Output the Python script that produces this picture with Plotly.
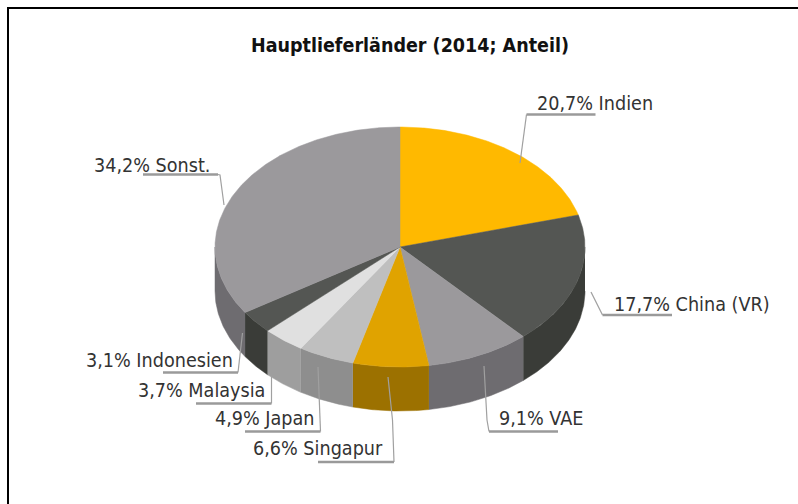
import numpy as np
import plotly.graph_objects as go

# --- data ---
countries = ["Indien", "China (VR)", "VAE", "Singapur", "Japan", "Malaysia", "Indonesien", "Sonst."]
shares = [20.7, 17.7, 9.1, 6.6, 4.9, 3.7, 3.1, 34.2]
title_text = "Hauptlieferländer (2014; Anteil)"

# --- styles ---
top_colors = ["#FFB900", "#545653", "#9B999C", "#E0A300", "#BFBFBF", "#E0E0E0", "#545653", "#9B999C"]
wall_colors = ["#9C7100", "#3A3C38", "#6E6C70", "#9C7100", "#8E8E8E", "#9E9E9E", "#3A3C38", "#6E6C70"]

# --- layout (pixel space of the page) ---
W, H = 798, 504
CX, CY, RX, RY, DEPTH = 400, 247, 185, 120, 44
label_x = [537, 614, 499, 253, 215, 138, 86, 94]
label_y = [103, 304, 418, 448, 418, 390, 360, 165]
leaders = [
    ([520, 526.5], [163, 114.5], [526.5, 595.5], [114.5, 114.5]),
    ([591, 602.5], [292, 315], [602.5, 672], [315, 315]),
    ([484, 487, 489], [366, 420, 431.5], [489, 558], [431.5, 431.5]),
    ([388, 392.5, 394], [377, 420, 462], [394, 318], [462, 462]),
    ([318, 320.5], [367, 431.5], [320.5, 245], [431.5, 431.5]),
    ([271.5, 271.5], [376, 403.5], [271.5, 196], [403.5, 403.5]),
    ([242.5, 239, 238], [333, 363, 372.5], [238, 163], [372.5, 372.5]),
    ([224, 220, 218], [205, 175, 174.5], [218, 143], [174.5, 174.5]),
]


def arc(a0, a1, dy=0.0):
    t = np.radians(np.linspace(a0, a1, max(int(abs(a1 - a0) * 2), 2)))
    return CX + RX * np.sin(t), CY + dy - RY * np.cos(t)


edges = np.cumsum([0] + shares) / sum(shares) * 360
fig = go.Figure()


def poly(x, y, color):
    fig.add_trace(go.Scatter(x=list(x), y=list(y), mode="lines", fill="toself", fillcolor=color,
                             line=dict(color=color, width=0.5), hoverinfo="skip", showlegend=False))


# outer walls (front half of the rim only)
for i in range(len(shares)):
    a0, a1 = max(edges[i], 90), min(edges[i + 1], 270)
    if a1 > a0:
        xt, yt = arc(a0, a1)
        xb, yb = arc(a0, a1, DEPTH)
        poly(np.r_[xt, xb[::-1]], np.r_[yt, yb[::-1]], wall_colors[i])

# top faces
for i in range(len(shares)):
    xt, yt = arc(edges[i], edges[i + 1])
    poly(np.r_[CX, xt, CX], np.r_[CY, yt, CY], top_colors[i])

# leader lines
for lx, ly, ux, uy in leaders:
    fig.add_trace(go.Scatter(x=lx, y=ly, mode="lines", line=dict(color="#A0A0A0", width=1.2),
                             hoverinfo="skip", showlegend=False))
    fig.add_trace(go.Scatter(x=ux, y=uy, mode="lines", line=dict(color="#9A9A9A", width=2.4),
                             hoverinfo="skip", showlegend=False))

# labels
annotations = [
    dict(x=x, y=y, xref="x", yref="y", xanchor="left", yanchor="middle", showarrow=False,
         text=f"{v:.1f}".replace(".", ",") + "% " + c, borderpad=0, borderwidth=0,
         font=dict(family="DejaVu Sans Condensed", size=19.6, color="#333333"))
    for c, v, x, y in zip(countries, shares, label_x, label_y)
]
annotations.append(dict(x=410, y=45, xref="x", yref="y", xanchor="center", yanchor="middle", showarrow=False,
                        text=f"<b>{title_text}</b>",
                        font=dict(family="DejaVu Sans Condensed", size=19.5, color="#111111")))

fig.update_layout(
    width=W, height=H, margin=dict(l=0, r=0, t=0, b=0), autosize=False,
    paper_bgcolor="white", plot_bgcolor="white", showlegend=False,
    xaxis=dict(range=[0, W], visible=False, fixedrange=True),
    yaxis=dict(range=[H, 0], visible=False, fixedrange=True),
    annotations=annotations,
    shapes=[dict(type="rect", xref="x", yref="y", x0=8, y0=8, x1=830, y1=540,
                 line=dict(color="black", width=2), layer="above")],
)
fig.write_html("out.html", config={"displayModeBar": False},
               post_script="document.body.style.margin='0';")
